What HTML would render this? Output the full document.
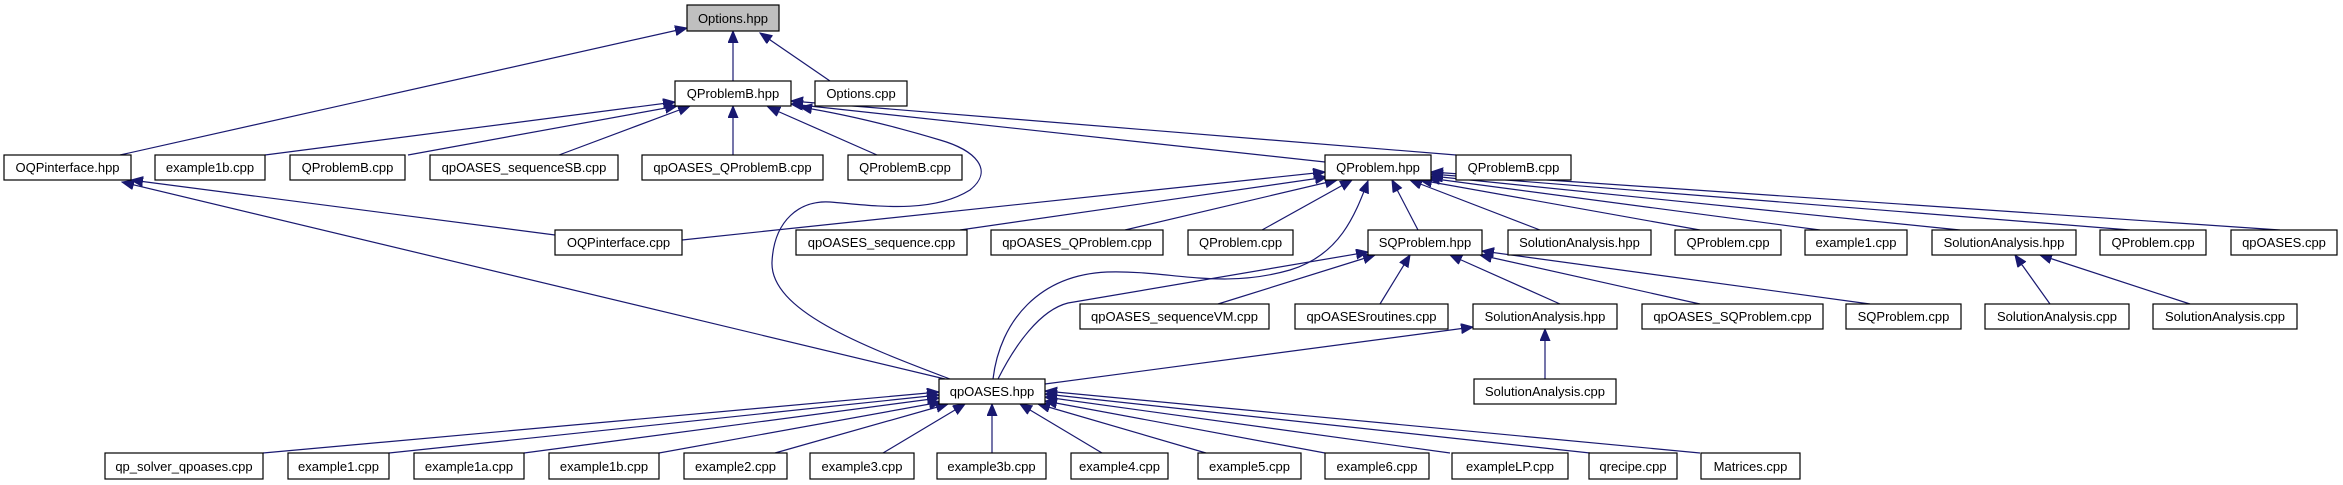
<!DOCTYPE html>
<html><head><meta charset="utf-8"><style>
html,body{margin:0;padding:0;background:#fff;}
svg{display:block;}
text{font-family:"Liberation Sans",Helvetica,Arial,sans-serif;font-size:13px;fill:#000;text-anchor:middle;}
rect{fill:#fff;stroke:#000;stroke-width:1.2;}
.e{stroke:#191970;stroke-width:1.2;fill:none;marker-end:url(#ah);}
</style></head><body>
<svg width="2343" height="485" viewBox="0 0 2343 485" xmlns="http://www.w3.org/2000/svg">
<defs><marker id="ah" markerUnits="userSpaceOnUse" markerWidth="14" markerHeight="12" refX="12" refY="5" orient="auto"><path d="M0,0 L12,5 L0,10 Z" fill="#191970" stroke="#191970"/></marker></defs>
<g>
<!-- Options.hpp -->
<path class="e" d="M120,155 L687,28"/>
<path class="e" d="M733,81 L733,31"/>
<path class="e" d="M830,81 L760,33"/>
<!-- QProblemB.hpp -->
<path class="e" d="M265,155 L675,102"/>
<path class="e" d="M408,155 L677,106"/>
<path class="e" d="M559,155 L690,106"/>
<path class="e" d="M733,155 L733,106"/>
<path class="e" d="M877,155 L768,107"/>
<path class="e" d="M1325,162 L791,104"/>
<path class="e" d="M1456,155 L791,101"/>
<path class="e" d="M950,379 C860,345 770,310 772,262 C774,220 800,200 830,202 C870,205 930,215 970,190 C995,170 975,150 940,140 C900,128 850,115 800,107"/>
<!-- OQPinterface.hpp -->
<path class="e" d="M555,235 L131,180"/>
<path class="e" d="M945,379 L122,182"/>
<!-- QProblem.hpp -->
<path class="e" d="M682,240 L1325,172"/>
<path class="e" d="M960,230 L1327,177"/>
<path class="e" d="M1125,230 L1337,180"/>
<path class="e" d="M1262,230 L1352,180"/>
<path class="e" d="M1418,230 L1392,180"/>
<path class="e" d="M1540,230 L1410,180"/>
<path class="e" d="M1700,230 L1420,180"/>
<path class="e" d="M1820,230 L1428,178"/>
<path class="e" d="M1960,230 L1431,176"/>
<path class="e" d="M2130,230 L1431,174"/>
<path class="e" d="M2280,230 L1431,172"/>
<path class="e" d="M993,379 C1000,320 1040,275 1107,272 C1170,270 1220,290 1290,270 C1340,255 1355,215 1368,181"/>
<!-- SQProblem.hpp -->
<path class="e" d="M998,379 C1015,345 1040,310 1068,303 L1368,252"/>
<path class="e" d="M1218,304 L1375,255"/>
<path class="e" d="M1380,304 L1410,255"/>
<path class="e" d="M1560,304 L1450,255"/>
<path class="e" d="M1700,304 L1480,255"/>
<path class="e" d="M1870,304 L1482,251"/>
<!-- SolutionAnalysis.hpp row4 -->
<path class="e" d="M2050,304 L2015,255"/>
<path class="e" d="M2190,304 L2040,255"/>
<!-- SolutionAnalysis.hpp row5 -->
<path class="e" d="M1545,379 L1545,329"/>
<path class="e" d="M1045,384 L1473,327"/>
<!-- qpOASES.hpp -->
<path class="e" d="M263,453 L939,392"/>
<path class="e" d="M389,453 L939,395"/>
<path class="e" d="M524,453 L939,398"/>
<path class="e" d="M659,453 L941,402"/>
<path class="e" d="M775,453 L948,404"/>
<path class="e" d="M883,453 L965,404"/>
<path class="e" d="M992,453 L992,404"/>
<path class="e" d="M1102,453 L1020,404"/>
<path class="e" d="M1206,453 L1038,404"/>
<path class="e" d="M1325,453 L1045,401"/>
<path class="e" d="M1450,453 L1045,397"/>
<path class="e" d="M1590,453 L1045,394"/>
<path class="e" d="M1700,453 L1045,391"/>
</g>
<g>
<rect x="687" y="5" width="92" height="26" style="fill:#bfbfbf"/><text x="733" y="23">Options.hpp</text>
<rect x="675" y="81" width="116" height="25"/><text x="733" y="98">QProblemB.hpp</text>
<rect x="815" y="81" width="92" height="25"/><text x="861" y="98">Options.cpp</text>

<rect x="4" y="155" width="127" height="25"/><text x="67.5" y="172">OQPinterface.hpp</text>
<rect x="155" y="155" width="110" height="25"/><text x="210" y="172">example1b.cpp</text>
<rect x="290" y="155" width="115" height="25"/><text x="347.5" y="172">QProblemB.cpp</text>
<rect x="430" y="155" width="188" height="25"/><text x="524" y="172">qpOASES_sequenceSB.cpp</text>
<rect x="642" y="155" width="181" height="25"/><text x="732.5" y="172">qpOASES_QProblemB.cpp</text>
<rect x="848" y="155" width="114" height="25"/><text x="905" y="172">QProblemB.cpp</text>
<rect x="1325" y="155" width="106" height="25"/><text x="1378" y="172">QProblem.hpp</text>
<rect x="1456" y="155" width="115" height="25"/><text x="1513.5" y="172">QProblemB.cpp</text>

<rect x="555" y="230" width="127" height="25"/><text x="618.5" y="247">OQPinterface.cpp</text>
<rect x="796" y="230" width="171" height="25"/><text x="881.5" y="247">qpOASES_sequence.cpp</text>
<rect x="991" y="230" width="172" height="25"/><text x="1077" y="247">qpOASES_QProblem.cpp</text>
<rect x="1188" y="230" width="105" height="25"/><text x="1240.5" y="247">QProblem.cpp</text>
<rect x="1368" y="230" width="114" height="25"/><text x="1425" y="247">SQProblem.hpp</text>
<rect x="1508" y="230" width="143" height="25"/><text x="1579.5" y="247">SolutionAnalysis.hpp</text>
<rect x="1675" y="230" width="106" height="25"/><text x="1728" y="247">QProblem.cpp</text>
<rect x="1805" y="230" width="102" height="25"/><text x="1856" y="247">example1.cpp</text>
<rect x="1932" y="230" width="144" height="25"/><text x="2004" y="247">SolutionAnalysis.hpp</text>
<rect x="2100" y="230" width="106" height="25"/><text x="2153" y="247">QProblem.cpp</text>
<rect x="2231" y="230" width="106" height="25"/><text x="2284" y="247">qpOASES.cpp</text>

<rect x="1080" y="304" width="189" height="25"/><text x="1174.5" y="321">qpOASES_sequenceVM.cpp</text>
<rect x="1295" y="304" width="153" height="25"/><text x="1371.5" y="321">qpOASESroutines.cpp</text>
<rect x="1473" y="304" width="144" height="25"/><text x="1545" y="321">SolutionAnalysis.hpp</text>
<rect x="1642" y="304" width="181" height="25"/><text x="1732.5" y="321">qpOASES_SQProblem.cpp</text>
<rect x="1846" y="304" width="115" height="25"/><text x="1903.5" y="321">SQProblem.cpp</text>
<rect x="1985" y="304" width="144" height="25"/><text x="2057" y="321">SolutionAnalysis.cpp</text>
<rect x="2153" y="304" width="144" height="25"/><text x="2225" y="321">SolutionAnalysis.cpp</text>

<rect x="939" y="379" width="106" height="25"/><text x="992" y="396">qpOASES.hpp</text>
<rect x="1474" y="379" width="142" height="25"/><text x="1545" y="396">SolutionAnalysis.cpp</text>

<rect x="105" y="453" width="158" height="26"/><text x="184" y="471">qp_solver_qpoases.cpp</text>
<rect x="288" y="453" width="101" height="26"/><text x="338.5" y="471">example1.cpp</text>
<rect x="414" y="453" width="110" height="26"/><text x="469" y="471">example1a.cpp</text>
<rect x="549" y="453" width="110" height="26"/><text x="604" y="471">example1b.cpp</text>
<rect x="684" y="453" width="103" height="26"/><text x="735.5" y="471">example2.cpp</text>
<rect x="810" y="453" width="104" height="26"/><text x="862" y="471">example3.cpp</text>
<rect x="937" y="453" width="109" height="26"/><text x="991.5" y="471">example3b.cpp</text>
<rect x="1071" y="453" width="97" height="26"/><text x="1119.5" y="471">example4.cpp</text>
<rect x="1198" y="453" width="103" height="26"/><text x="1249.5" y="471">example5.cpp</text>
<rect x="1325" y="453" width="104" height="26"/><text x="1377" y="471">example6.cpp</text>
<rect x="1452" y="453" width="116" height="26"/><text x="1510" y="471">exampleLP.cpp</text>
<rect x="1589" y="453" width="88" height="26"/><text x="1633" y="471">qrecipe.cpp</text>
<rect x="1701" y="453" width="99" height="26"/><text x="1750.5" y="471">Matrices.cpp</text>
</g>
</svg>
</body></html>
